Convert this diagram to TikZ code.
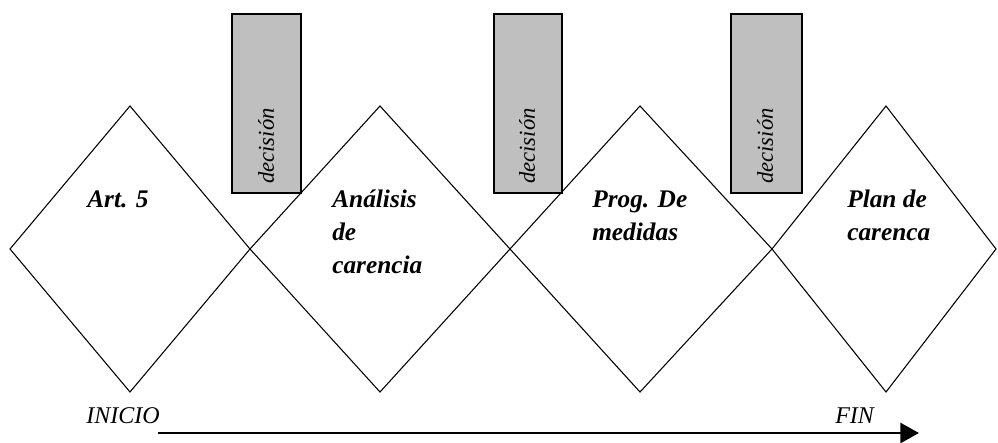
\documentclass[tikz,border=0pt]{standalone}
\usepackage{fontspec}
\setmainfont{Liberation Serif}
\usetikzlibrary{arrows.meta}
\tikzset{
  diam/.style={draw=black, line width=0.8pt, line join=miter},
  gbox/.style={draw=black, line width=1.3pt, fill=gray!50},
  lbl/.style={anchor=base west, align=left, inner sep=0pt,
    font=\fontsize{19}{24.75}\selectfont\bfseries\itshape},
  dec/.style={rotate=90, inner sep=0pt, font=\fontsize{17}{20}\selectfont\itshape},
  ends/.style={anchor=base west, inner sep=0pt, font=\fontsize{18}{20}\selectfont\itshape}
}
\begin{document}
\begin{tikzpicture}[x=0.75pt,y=-0.75pt]
\useasboundingbox (0,0) rectangle (998,442);

% the four phases, touching at their side corners
\draw[diam] (10,249) -- (130,106) -- (250,249) -- (130,392) -- cycle;
\draw[diam] (250,249) -- (380,106) -- (510,249) -- (380,392) -- cycle;
\draw[diam] (510,249) -- (640,106) -- (772,249) -- (640,392) -- cycle;
\draw[diam] (772,249) -- (886,106) -- (996,249) -- (886,392) -- cycle;

% decision gates between the phases
\draw[gbox] (232,14) rectangle (301,193);
\draw[gbox] (494,14) rectangle (562,193);
\draw[gbox] (731,14) rectangle (802,193);
\node[dec] (d1) at (266,146) {decisión};
\node[dec] (d2) at (527,146) {decisión};
\node[dec] (d3) at (765,146) {decisión};

% phase names (anchored at the baseline of their last line)
\node[lbl] (p1) at (87,207) {Art. 5};
\node[lbl] (p2) at (332,273) {Análisis\\de\\carencia};
\node[lbl] (p3) at (592,240) {Prog. De\\medidas};
\node[lbl] (p4) at (847,240) {Plan de\\carenca};

% time axis
\node[ends] (ini) at (86,423) {INICIO};
\node[ends] (fin) at (835,423) {FIN};
\coordinate (a0) at (158,433);
\coordinate (a1) at (919,433);
\draw[line width=2pt, -{Triangle[length=14pt,width=15pt]}] (a0) -- (a1);
\end{tikzpicture}
\end{document}
